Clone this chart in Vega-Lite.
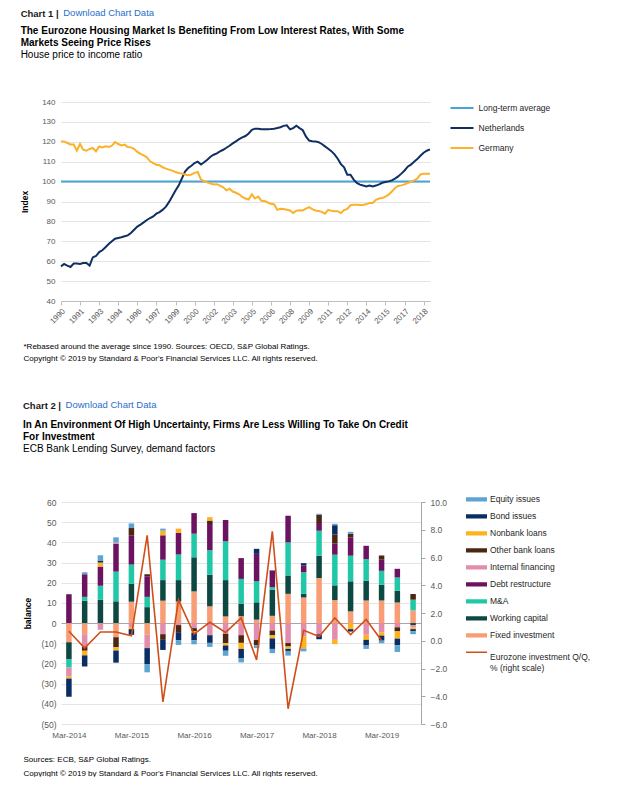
{
  "$schema": "https://vega.github.io/schema/vega-lite/v6.json",
  "background": "white",
  "padding": {"left": 20, "top": 7, "right": 0, "bottom": 0},
  "spacing": 36,
  "resolve": {"scale": {"color": "independent"}, "legend": {"color": "independent"}},
  "config": {
    "font": "Liberation Sans",
    "view": {"stroke": null},
    "axis": {"labelFont": "Liberation Sans", "titleFont": "Liberation Sans", "labelColor": "#595959", "labelFontSize": 8, "titleFontSize": 8.5, "titleFontWeight": "bold", "titleColor": "#000000", "gridColor": "#E4E4E4", "domainColor": "#BFBFBF", "tickColor": "#BFBFBF", "labelFlush": false, "labelOverlap": false},
    "legend": {"labelFont": "Liberation Sans", "labelFontSize": 8.5, "labelColor": "#262626", "padding": 0},
    "title": {"font": "Liberation Sans", "subtitleFont": "Liberation Sans", "anchor": "start", "frame": "bounds", "color": "#000000", "subtitleColor": "#000000"}
  },
  "datasets": {
    "housing": [
      {"date":"1990-01-01","Long-term average":100,"Netherlands":57.4,"Germany":120.2},
      {"date":"1990-04-01","Long-term average":100,"Netherlands":58.6,"Germany":120.2},
      {"date":"1990-07-01","Long-term average":100,"Netherlands":57.8,"Germany":119.4},
      {"date":"1990-10-01","Long-term average":100,"Netherlands":57.1,"Germany":118.6},
      {"date":"1991-01-01","Long-term average":100,"Netherlands":58.8,"Germany":118.6},
      {"date":"1991-04-01","Long-term average":100,"Netherlands":58.8,"Germany":115.5},
      {"date":"1991-07-01","Long-term average":100,"Netherlands":58.6,"Germany":118.9},
      {"date":"1991-10-01","Long-term average":100,"Netherlands":59.1,"Germany":116.0},
      {"date":"1992-01-01","Long-term average":100,"Netherlands":59.1,"Germany":115.5},
      {"date":"1992-04-01","Long-term average":100,"Netherlands":57.8,"Germany":116.4},
      {"date":"1992-07-01","Long-term average":100,"Netherlands":61.9,"Germany":116.9},
      {"date":"1992-10-01","Long-term average":100,"Netherlands":62.6,"Germany":115.2},
      {"date":"1993-01-01","Long-term average":100,"Netherlands":64.6,"Germany":117.7},
      {"date":"1993-04-01","Long-term average":100,"Netherlands":65.5,"Germany":117.2},
      {"date":"1993-07-01","Long-term average":100,"Netherlands":67.0,"Germany":117.7},
      {"date":"1993-10-01","Long-term average":100,"Netherlands":68.6,"Germany":117.4},
      {"date":"1994-01-01","Long-term average":100,"Netherlands":70.0,"Germany":118.0},
      {"date":"1994-04-01","Long-term average":100,"Netherlands":71.3,"Germany":119.9},
      {"date":"1994-07-01","Long-term average":100,"Netherlands":71.7,"Germany":118.9},
      {"date":"1994-10-01","Long-term average":100,"Netherlands":72.0,"Germany":118.2},
      {"date":"1995-01-01","Long-term average":100,"Netherlands":72.5,"Germany":118.6},
      {"date":"1995-04-01","Long-term average":100,"Netherlands":73.0,"Germany":117.4},
      {"date":"1995-07-01","Long-term average":100,"Netherlands":74.2,"Germany":117.2},
      {"date":"1995-10-01","Long-term average":100,"Netherlands":75.8,"Germany":116.5},
      {"date":"1996-01-01","Long-term average":100,"Netherlands":77.4,"Germany":114.9},
      {"date":"1996-04-01","Long-term average":100,"Netherlands":78.4,"Germany":113.9},
      {"date":"1996-07-01","Long-term average":100,"Netherlands":79.5,"Germany":113.2},
      {"date":"1996-10-01","Long-term average":100,"Netherlands":80.7,"Germany":112.2},
      {"date":"1997-01-01","Long-term average":100,"Netherlands":81.7,"Germany":110.2},
      {"date":"1997-04-01","Long-term average":100,"Netherlands":82.5,"Germany":109.3},
      {"date":"1997-07-01","Long-term average":100,"Netherlands":83.9,"Germany":108.5},
      {"date":"1997-10-01","Long-term average":100,"Netherlands":84.7,"Germany":108.2},
      {"date":"1998-01-01","Long-term average":100,"Netherlands":85.9,"Germany":107.2},
      {"date":"1998-04-01","Long-term average":100,"Netherlands":87.4,"Germany":106.5},
      {"date":"1998-07-01","Long-term average":100,"Netherlands":89.8,"Germany":106.0},
      {"date":"1998-10-01","Long-term average":100,"Netherlands":92.6,"Germany":105.5},
      {"date":"1999-01-01","Long-term average":100,"Netherlands":95.5,"Germany":104.8},
      {"date":"1999-04-01","Long-term average":100,"Netherlands":98.0,"Germany":104.3},
      {"date":"1999-07-01","Long-term average":100,"Netherlands":101.5,"Germany":104.0},
      {"date":"1999-10-01","Long-term average":100,"Netherlands":105.0,"Germany":103.6},
      {"date":"2000-01-01","Long-term average":100,"Netherlands":106.8,"Germany":103.2},
      {"date":"2000-04-01","Long-term average":100,"Netherlands":108.0,"Germany":103.6},
      {"date":"2000-07-01","Long-term average":100,"Netherlands":109.3,"Germany":104.4},
      {"date":"2000-10-01","Long-term average":100,"Netherlands":110.0,"Germany":104.8},
      {"date":"2001-01-01","Long-term average":100,"Netherlands":108.6,"Germany":101.0},
      {"date":"2001-04-01","Long-term average":100,"Netherlands":109.7,"Germany":100.2},
      {"date":"2001-07-01","Long-term average":100,"Netherlands":111.0,"Germany":99.6},
      {"date":"2001-10-01","Long-term average":100,"Netherlands":112.5,"Germany":99.0},
      {"date":"2002-01-01","Long-term average":100,"Netherlands":113.5,"Germany":98.6},
      {"date":"2002-04-01","Long-term average":100,"Netherlands":114.2,"Germany":98.7},
      {"date":"2002-07-01","Long-term average":100,"Netherlands":115.2,"Germany":98.0},
      {"date":"2002-10-01","Long-term average":100,"Netherlands":116.0,"Germany":97.1},
      {"date":"2003-01-01","Long-term average":100,"Netherlands":117.0,"Germany":95.6},
      {"date":"2003-04-01","Long-term average":100,"Netherlands":118.0,"Germany":96.4},
      {"date":"2003-07-01","Long-term average":100,"Netherlands":119.2,"Germany":95.0},
      {"date":"2003-10-01","Long-term average":100,"Netherlands":120.2,"Germany":94.4},
      {"date":"2004-01-01","Long-term average":100,"Netherlands":121.3,"Germany":93.6},
      {"date":"2004-04-01","Long-term average":100,"Netherlands":122.2,"Germany":92.3},
      {"date":"2004-07-01","Long-term average":100,"Netherlands":122.9,"Germany":91.5},
      {"date":"2004-10-01","Long-term average":100,"Netherlands":124.2,"Germany":91.0},
      {"date":"2005-01-01","Long-term average":100,"Netherlands":126.0,"Germany":93.6},
      {"date":"2005-04-01","Long-term average":100,"Netherlands":126.6,"Germany":91.5},
      {"date":"2005-07-01","Long-term average":100,"Netherlands":126.5,"Germany":92.5},
      {"date":"2005-10-01","Long-term average":100,"Netherlands":126.3,"Germany":90.4},
      {"date":"2006-01-01","Long-term average":100,"Netherlands":126.3,"Germany":90.3},
      {"date":"2006-04-01","Long-term average":100,"Netherlands":126.3,"Germany":89.5},
      {"date":"2006-07-01","Long-term average":100,"Netherlands":126.4,"Germany":88.9},
      {"date":"2006-10-01","Long-term average":100,"Netherlands":126.6,"Germany":88.5},
      {"date":"2007-01-01","Long-term average":100,"Netherlands":126.9,"Germany":85.8},
      {"date":"2007-04-01","Long-term average":100,"Netherlands":127.3,"Germany":86.3},
      {"date":"2007-07-01","Long-term average":100,"Netherlands":128.0,"Germany":86.2},
      {"date":"2007-10-01","Long-term average":100,"Netherlands":128.3,"Germany":85.9},
      {"date":"2008-01-01","Long-term average":100,"Netherlands":126.3,"Germany":85.5},
      {"date":"2008-04-01","Long-term average":100,"Netherlands":126.9,"Germany":84.2},
      {"date":"2008-07-01","Long-term average":100,"Netherlands":128.1,"Germany":85.4},
      {"date":"2008-10-01","Long-term average":100,"Netherlands":126.9,"Germany":85.6},
      {"date":"2009-01-01","Long-term average":100,"Netherlands":125.8,"Germany":85.5},
      {"date":"2009-04-01","Long-term average":100,"Netherlands":122.7,"Germany":86.4},
      {"date":"2009-07-01","Long-term average":100,"Netherlands":120.6,"Germany":87.2},
      {"date":"2009-10-01","Long-term average":100,"Netherlands":120.3,"Germany":86.2},
      {"date":"2010-01-01","Long-term average":100,"Netherlands":120.2,"Germany":85.5},
      {"date":"2010-04-01","Long-term average":100,"Netherlands":119.8,"Germany":85.2},
      {"date":"2010-07-01","Long-term average":100,"Netherlands":118.9,"Germany":84.8},
      {"date":"2010-10-01","Long-term average":100,"Netherlands":117.7,"Germany":83.9},
      {"date":"2011-01-01","Long-term average":100,"Netherlands":116.5,"Germany":85.8},
      {"date":"2011-04-01","Long-term average":100,"Netherlands":115.3,"Germany":85.3},
      {"date":"2011-07-01","Long-term average":100,"Netherlands":113.7,"Germany":85.1},
      {"date":"2011-10-01","Long-term average":100,"Netherlands":111.5,"Germany":85.1},
      {"date":"2012-01-01","Long-term average":100,"Netherlands":108.8,"Germany":84.2},
      {"date":"2012-04-01","Long-term average":100,"Netherlands":107.2,"Germany":85.7},
      {"date":"2012-07-01","Long-term average":100,"Netherlands":103.5,"Germany":86.3},
      {"date":"2012-10-01","Long-term average":100,"Netherlands":103.5,"Germany":88.1},
      {"date":"2013-01-01","Long-term average":100,"Netherlands":101.0,"Germany":88.4},
      {"date":"2013-04-01","Long-term average":100,"Netherlands":99.3,"Germany":88.4},
      {"date":"2013-07-01","Long-term average":100,"Netherlands":98.5,"Germany":88.2},
      {"date":"2013-10-01","Long-term average":100,"Netherlands":98.0,"Germany":88.3},
      {"date":"2014-01-01","Long-term average":100,"Netherlands":97.6,"Germany":88.7},
      {"date":"2014-04-01","Long-term average":100,"Netherlands":98.0,"Germany":89.2},
      {"date":"2014-07-01","Long-term average":100,"Netherlands":97.6,"Germany":89.2},
      {"date":"2014-10-01","Long-term average":100,"Netherlands":98.0,"Germany":90.8},
      {"date":"2015-01-01","Long-term average":100,"Netherlands":98.6,"Germany":91.5},
      {"date":"2015-04-01","Long-term average":100,"Netherlands":99.4,"Germany":91.7},
      {"date":"2015-07-01","Long-term average":100,"Netherlands":99.8,"Germany":92.5},
      {"date":"2015-10-01","Long-term average":100,"Netherlands":100.1,"Germany":93.4},
      {"date":"2016-01-01","Long-term average":100,"Netherlands":100.6,"Germany":95.0},
      {"date":"2016-04-01","Long-term average":100,"Netherlands":101.5,"Germany":96.8},
      {"date":"2016-07-01","Long-term average":100,"Netherlands":102.6,"Germany":97.8},
      {"date":"2016-10-01","Long-term average":100,"Netherlands":104.0,"Germany":98.1},
      {"date":"2017-01-01","Long-term average":100,"Netherlands":105.6,"Germany":98.6},
      {"date":"2017-04-01","Long-term average":100,"Netherlands":107.5,"Germany":99.3},
      {"date":"2017-07-01","Long-term average":100,"Netherlands":108.5,"Germany":99.9},
      {"date":"2017-10-01","Long-term average":100,"Netherlands":110.0,"Germany":100.6},
      {"date":"2018-01-01","Long-term average":100,"Netherlands":111.3,"Germany":101.5},
      {"date":"2018-04-01","Long-term average":100,"Netherlands":113.0,"Germany":103.6},
      {"date":"2018-07-01","Long-term average":100,"Netherlands":114.5,"Germany":104.0},
      {"date":"2018-10-01","Long-term average":100,"Netherlands":115.5,"Germany":104.0},
      {"date":"2019-01-01","Long-term average":100,"Netherlands":116.2,"Germany":104.0}
    ],
    "survey": [
      {"date":"2014-03-01","Eurozone investment Q/Q, % (right scale)":0.68,"Debt restructure":14.3,"Fixed investment":-9.5,"Working capital":-8.5,"M&A":-4,"Internal financing":-4.5,"Nonbank loans":-1,"Bond issues":-9},
      {"date":"2014-06-01","Eurozone investment Q/Q, % (right scale)":-0.53,"Working capital":11,"M&A":2,"Debt restructure":11.2,"Equity issues":1,"Fixed investment":-5.5,"Internal financing":-6.2,"Other bank loans":-2,"Nonbank loans":-2.3,"Bond issues":-5.5},
      {"date":"2014-09-01","Eurozone investment Q/Q, % (right scale)":0.63,"Working capital":11.5,"M&A":7,"Debt restructure":9.5,"Nonbank loans":2,"Bond issues":1,"Equity issues":2.6,"Internal financing":-3.3},
      {"date":"2014-12-01","Eurozone investment Q/Q, % (right scale)":0.63,"Working capital":10.8,"M&A":14.7,"Debt restructure":13.7,"Internal financing":0.7,"Equity issues":2.6,"Fixed investment":-7,"Other bank loans":-5,"Nonbank loans":-1.6,"Bond issues":-6},
      {"date":"2015-03-01","Eurozone investment Q/Q, % (right scale)":0.36,"Fixed investment":10.6,"Working capital":8.8,"M&A":9.6,"Debt restructure":14.5,"Other bank loans":3.6,"Equity issues":2.3,"Internal financing":-2,"Nonbank loans":-1,"Bond issues":-2.8},
      {"date":"2015-06-01","Eurozone investment Q/Q, % (right scale)":7.59,"Working capital":7.9,"M&A":5.1,"Debt restructure":10.2,"Other bank loans":1,"Fixed investment":-5.8,"Internal financing":-6.6,"Bond issues":-7.9,"Equity issues":-4.1},
      {"date":"2015-09-01","Eurozone investment Q/Q, % (right scale)":-4.41,"Fixed investment":11.1,"Working capital":10.2,"M&A":10.1,"Debt restructure":12.1,"Nonbank loans":2.3,"Equity issues":1,"Internal financing":-5.5,"Other bank loans":-2.8,"Bond issues":-5},
      {"date":"2015-12-01","Eurozone investment Q/Q, % (right scale)":2.93,"Fixed investment":10.7,"Working capital":10.6,"M&A":12.7,"Debt restructure":10.7,"Nonbank loans":2.1,"Internal financing":-1,"Other bank loans":-3.5,"Bond issues":-4,"Equity issues":-2.3},
      {"date":"2016-03-01","Eurozone investment Q/Q, % (right scale)":0.48,"Fixed investment":15.7,"Working capital":16.9,"M&A":11.7,"Debt restructure":10.2,"Internal financing":-2.5,"Other bank loans":-1.5,"Nonbank loans":-0.8,"Bond issues":-3.7,"Equity issues":-2},
      {"date":"2016-06-01","Eurozone investment Q/Q, % (right scale)":1.33,"Fixed investment":8.3,"Working capital":15.7,"M&A":12.1,"Debt restructure":13,"Other bank loans":1.7,"Nonbank loans":1.7,"Internal financing":-6,"Bond issues":-3.8,"Equity issues":-2},
      {"date":"2016-09-01","Eurozone investment Q/Q, % (right scale)":0.6,"Fixed investment":3.3,"Working capital":18,"M&A":19.2,"Debt restructure":10.6,"Internal financing":-5.3,"Other bank loans":-4.6,"Nonbank loans":-1.2,"Bond issues":-2.6,"Equity issues":-2.5},
      {"date":"2016-12-01","Eurozone investment Q/Q, % (right scale)":1.65,"Fixed investment":3.4,"Working capital":6.2,"M&A":12.3,"Debt restructure":10.3,"Internal financing":-6,"Other bank loans":-3.8,"Nonbank loans":-3,"Bond issues":-4.5,"Equity issues":-2.2},
      {"date":"2017-03-01","Eurozone investment Q/Q, % (right scale)":-1.38,"Fixed investment":1.7,"Working capital":8.6,"M&A":10.4,"Debt restructure":13.6,"Bond issues":2.5,"Internal financing":-8.4,"Other bank loans":-2.6,"Equity issues":-1.4},
      {"date":"2017-06-01","Eurozone investment Q/Q, % (right scale)":7.88,"Fixed investment":3.6,"Working capital":12.9,"M&A":1.3,"Debt restructure":8.3,"Internal financing":-3.7,"Other bank loans":-2.4,"Nonbank loans":-1.5,"Bond issues":-5.2,"Equity issues":-2.1},
      {"date":"2017-09-01","Eurozone investment Q/Q, % (right scale)":-4.9,"Fixed investment":14.5,"Working capital":9.1,"M&A":16.4,"Debt restructure":13.2,"Internal financing":-9.9,"Other bank loans":-1.7,"Nonbank loans":-1.2,"Bond issues":-1,"Equity issues":-2.3},
      {"date":"2017-12-01","Eurozone investment Q/Q, % (right scale)":0.75,"Fixed investment":12.7,"Working capital":1.8,"M&A":10.7,"Debt restructure":3.3,"Bond issues":1.2,"Internal financing":-6.6,"Nonbank loans":-6,"Equity issues":-1.4},
      {"date":"2018-03-01","Eurozone investment Q/Q, % (right scale)":0.31,"Fixed investment":22.4,"Working capital":11,"M&A":12.4,"Debt restructure":3.8,"Other bank loans":4.1,"Equity issues":0.5,"Internal financing":-5.5,"Bond issues":-2.5},
      {"date":"2018-06-01","Eurozone investment Q/Q, % (right scale)":1.65,"Fixed investment":11.4,"Working capital":7.3,"M&A":15.2,"Debt restructure":5.5,"Other bank loans":4.5,"Bond issues":4.6,"Equity issues":0.7,"Internal financing":-8.3,"Nonbank loans":-2.1},
      {"date":"2018-09-01","Eurozone investment Q/Q, % (right scale)":0.44,"Fixed investment":5.8,"Working capital":14.9,"M&A":12.7,"Debt restructure":9.1,"Other bank loans":1.7,"Equity issues":1,"Nonbank loans":-3,"Bond issues":-1.2},
      {"date":"2018-12-01","Eurozone investment Q/Q, % (right scale)":1.53,"Fixed investment":11.2,"Working capital":9.8,"M&A":10.7,"Debt restructure":6.6,"Internal financing":-5.8,"Nonbank loans":-2.5,"Bond issues":-2.8,"Equity issues":-1.7},
      {"date":"2019-03-01","Eurozone investment Q/Q, % (right scale)":0.02,"Fixed investment":11.2,"Working capital":7.8,"M&A":6.9,"Debt restructure":5.5,"Other bank loans":2.1,"Internal financing":-4.5,"Nonbank loans":-1.7,"Bond issues":-2.5,"Equity issues":-1.3},
      {"date":"2019-06-01","Fixed investment":10.2,"Working capital":5.8,"M&A":6.6,"Debt restructure":4.3,"Internal financing":-2.1,"Other bank loans":-2,"Nonbank loans":-3.6,"Bond issues":-3.3,"Equity issues":-3.3},
      {"date":"2019-09-01","Fixed investment":6.3,"M&A":5.3,"Other bank loans":2.8,"Working capital":-1,"Internal financing":-1.2,"Nonbank loans":-0.8,"Bond issues":-1,"Equity issues":-1.5}
    ]
  },
  "vconcat": [
    {
      "title": {"text": "Chart 1  |", "fontSize": 9.5, "fontWeight": "bold", "color": "#1A1A1A", "offset": 0, "dy": 11},
      "vconcat": [
        {
          "title": {"text": "Download Chart Data", "fontSize": 9.5, "fontWeight": "normal", "color": "#1F6FCB", "dx": 42.6, "offset": 9},
          "vconcat": [
            {
              "width": 369,
              "height": 199,
              "title": {"text": ["The Eurozone Housing Market Is Benefiting From Low Interest Rates, With Some", "Markets Seeing Price Rises"], "subtitle": "House price to income ratio", "fontSize": 10, "fontWeight": "bold", "lineHeight": 12, "subtitleFontSize": 10, "subtitleFontWeight": "normal", "subtitleLineHeight": 12, "subtitlePadding": 2, "offset": 38},
              "data": {"name": "housing"},
              "transform": [{"fold": ["Long-term average", "Netherlands", "Germany"], "as": ["series", "value"]}],
              "mark": {"type": "line", "strokeWidth": 2},
              "encoding": {
                "x": {
                  "field": "date", "type": "temporal",
                  "scale": {"type": "utc", "domain": [{"year": 1990, "month": 1, "date": 1, "utc": true}, {"year": 2019, "month": 1, "date": 1, "utc": true}]},
                  "axis": {
                    "values": [
                      {"year": 1990, "month": 1, "date": 1, "utc": true}, {"year": 1991, "month": 7, "date": 1, "utc": true},
                      {"year": 1993, "month": 1, "date": 1, "utc": true}, {"year": 1994, "month": 7, "date": 1, "utc": true},
                      {"year": 1996, "month": 1, "date": 1, "utc": true}, {"year": 1997, "month": 7, "date": 1, "utc": true},
                      {"year": 1999, "month": 1, "date": 1, "utc": true}, {"year": 2000, "month": 7, "date": 1, "utc": true},
                      {"year": 2002, "month": 1, "date": 1, "utc": true}, {"year": 2003, "month": 7, "date": 1, "utc": true},
                      {"year": 2005, "month": 1, "date": 1, "utc": true}, {"year": 2006, "month": 7, "date": 1, "utc": true},
                      {"year": 2008, "month": 1, "date": 1, "utc": true}, {"year": 2009, "month": 7, "date": 1, "utc": true},
                      {"year": 2011, "month": 1, "date": 1, "utc": true}, {"year": 2012, "month": 7, "date": 1, "utc": true},
                      {"year": 2014, "month": 1, "date": 1, "utc": true}, {"year": 2015, "month": 7, "date": 1, "utc": true},
                      {"year": 2017, "month": 1, "date": 1, "utc": true}, {"year": 2018, "month": 7, "date": 1, "utc": true}
                    ],
                    "labelExpr": "utcFormat(datum.value, '%Y')", "labelAngle": -45, "labelFontSize": 8, "labelPadding": 2,
                    "grid": false, "domain": true, "ticks": true, "tickSize": 4,
                    "title": ["*Rebased around the average since 1990. Sources: OECD, S&P Global Ratings.", "Copyright © 2019 by Standard & Poor's Financial Services LLC. All rights reserved."],
                    "titleFontWeight": "normal", "titleFontSize": 8, "titleAlign": "left", "titleAnchor": "start", "titleX": -38, "titlePadding": 17, "titleLineHeight": 12, "titleColor": "#000000"
                  }
                },
                "y": {
                  "field": "value", "type": "quantitative",
                  "scale": {"domain": [40, 140], "nice": false},
                  "axis": {"title": "Index", "values": [40, 50, 60, 70, 80, 90, 100, 110, 120, 130, 140], "domain": false, "ticks": false, "grid": true, "labelPadding": 6, "titlePadding": 12, "labelFontSize": 8}
                },
                "color": {
                  "field": "series", "type": "nominal",
                  "scale": {"domain": ["Long-term average", "Netherlands", "Germany"], "range": ["#4AA5D6", "#0F2F61", "#FBB129"]},
                  "legend": {"title": null, "orient": "none", "legendX": 388.5, "legendY": -4, "symbolType": "stroke", "symbolSize": 529, "symbolStrokeWidth": 2, "clipHeight": 20, "rowPadding": 0, "labelOffset": 4, "labelFontSize": 8.5}
                }
              }
            }
          ]
        }
      ]
    },
    {
      "title": {"text": "Chart 2  |", "fontSize": 9.5, "fontWeight": "bold", "color": "#1A1A1A", "offset": 0, "dy": 11},
      "vconcat": [
        {
          "title": {"text": "Download Chart Data", "fontSize": 9.5, "fontWeight": "normal", "color": "#1F6FCB", "dx": 42.6, "offset": 11},
          "vconcat": [
            {
              "width": 360,
              "height": 222,
              "title": {"text": ["In An Environment Of High Uncertainty, Firms Are Less Willing To Take On Credit", "For Investment"], "subtitle": "ECB Bank Lending Survey, demand factors", "fontSize": 10, "fontWeight": "bold", "lineHeight": 12, "subtitleFontSize": 10, "subtitleFontWeight": "normal", "subtitleLineHeight": 12, "subtitlePadding": 2, "offset": 44},
              "data": {"name": "survey"},
              "encoding": {
                "x": {
                  "field": "date", "type": "temporal",
                  "scale": {"type": "utc", "domain": [{"year": 2014, "month": 2, "date": 12, "utc": true}, {"year": 2019, "month": 9, "date": 18, "utc": true}]},
                  "axis": {
                    "values": [
                      {"year": 2014, "month": 3, "date": 1, "utc": true}, {"year": 2015, "month": 3, "date": 1, "utc": true},
                      {"year": 2016, "month": 3, "date": 1, "utc": true}, {"year": 2017, "month": 3, "date": 1, "utc": true},
                      {"year": 2018, "month": 3, "date": 1, "utc": true}, {"year": 2019, "month": 3, "date": 1, "utc": true}
                    ],
                    "labelExpr": "utcFormat(datum.value, '%b-%Y')", "labelAngle": 0, "labelFontSize": 8, "labelPadding": 7,
                    "grid": false, "domain": false, "ticks": false,
                    "title": ["Sources: ECB, S&P Global Ratings.", "Copyright © 2019 by Standard & Poor's Financial Services LLC. All rights reserved."],
                    "titleFontWeight": "normal", "titleFontSize": 8, "titleAlign": "left", "titleAnchor": "start", "titleX": -38, "titlePadding": 16, "titleLineHeight": 14, "titleColor": "#000000"
                  }
                }
              },
              "layer": [
                {
                  "transform": [
                    {"fold": ["Fixed investment", "Working capital", "M&A", "Debt restructure", "Internal financing", "Other bank loans", "Nonbank loans", "Bond issues", "Equity issues"], "as": ["series", "value"]},
                    {"filter": "isValid(datum.value)"}
                  ],
                  "mark": {"type": "bar", "size": 5.5},
                  "encoding": {
                    "y": {
                      "field": "value", "type": "quantitative", "stack": "zero",
                      "scale": {"domain": [-50, 60], "nice": false},
                      "axis": {"title": "balance", "values": [-50, -40, -30, -20, -10, 0, 10, 20, 30, 40, 50, 60], "labelExpr": "datum.value < 0 ? '(' + abs(datum.value) + ')' : datum.label", "domain": false, "ticks": false, "grid": true, "gridColor": {"condition": {"test": "datum.value === 0", "value": "#A6A6A6"}, "value": "#E4E4E4"}, "labelPadding": 5, "titlePadding": 8, "labelFontSize": 8.5}
                    },
                    "order": {"field": "date", "type": "temporal"},
                    "color": {
                      "field": "series", "type": "nominal",
                      "scale": {
                        "domain": ["Equity issues", "Bond issues", "Nonbank loans", "Other bank loans", "Internal financing", "Debt restructure", "M&A", "Working capital", "Fixed investment", "Eurozone investment Q/Q, % (right scale)"],
                        "range": ["#5DA4D1", "#0A2E63", "#FDB21E", "#4B2613", "#E28DAB", "#6B1260", "#20C8A8", "#0E4842", "#F99D74", "#CF4F1B"]
                      },
                      "legend": {
                        "title": null, "orient": "none", "legendX": 405, "legendY": -11,
                        "symbolType": "M-1,-0.2H1V0.2H-1Z", "symbolSize": 441, "symbolStrokeWidth": 0, "clipHeight": 16.7, "rowPadding": 0, "labelOffset": 3, "labelFontSize": 8.5,
                        "labelExpr": "datum.label == 'Eurozone investment Q/Q, % (right scale)' ? ['Eurozone investment Q/Q,', '% (right scale)'] : datum.label",
                        "encode": {
                          "symbols": {"update": {"shape": {"signal": "datum.value == 'Eurozone investment Q/Q, % (right scale)' ? 'M-1,-0.07H1V0.07H-1Z' : 'M-1,-0.2H1V0.2H-1Z'"}}},
                          "labels": {"update": {"dy": {"signal": "datum.value == 'Eurozone investment Q/Q, % (right scale)' ? 5 : 0"}}}
                        }
                      }
                    }
                  }
                },
                {
                  "transform": [
                    {"fold": ["Eurozone investment Q/Q, % (right scale)"], "as": ["series", "value"]},
                    {"filter": "isValid(datum.value)"}
                  ],
                  "mark": {"type": "line", "strokeWidth": 1.6},
                  "encoding": {
                    "y": {
                      "field": "value", "type": "quantitative",
                      "scale": {"domain": [-6, 10], "nice": false},
                      "axis": {"orient": "right", "title": null, "values": [-6, -4, -2, 0, 2, 4, 6, 8, 10], "format": ".1f", "grid": false, "domain": true, "domainColor": "#A6A6A6", "ticks": true, "tickColor": "#A6A6A6", "tickSize": 4, "labelPadding": 5, "labelFontSize": 8.5}
                    },
                    "color": {
                      "field": "series", "type": "nominal",
                      "scale": {
                        "domain": ["Equity issues", "Bond issues", "Nonbank loans", "Other bank loans", "Internal financing", "Debt restructure", "M&A", "Working capital", "Fixed investment", "Eurozone investment Q/Q, % (right scale)"],
                        "range": ["#5DA4D1", "#0A2E63", "#FDB21E", "#4B2613", "#E28DAB", "#6B1260", "#20C8A8", "#0E4842", "#F99D74", "#CF4F1B"]
                      },
                      "legend": {
                        "title": null, "orient": "none", "legendX": 405, "legendY": -11,
                        "symbolType": "M-1,-0.2H1V0.2H-1Z", "symbolSize": 441, "symbolStrokeWidth": 0, "clipHeight": 16.7, "rowPadding": 0, "labelOffset": 3, "labelFontSize": 8.5,
                        "labelExpr": "datum.label == 'Eurozone investment Q/Q, % (right scale)' ? ['Eurozone investment Q/Q,', '% (right scale)'] : datum.label",
                        "encode": {
                          "symbols": {"update": {"shape": {"signal": "datum.value == 'Eurozone investment Q/Q, % (right scale)' ? 'M-1,-0.07H1V0.07H-1Z' : 'M-1,-0.2H1V0.2H-1Z'"}}},
                          "labels": {"update": {"dy": {"signal": "datum.value == 'Eurozone investment Q/Q, % (right scale)' ? 5 : 0"}}}
                        }
                      }
                    }
                  }
                }
              ],
              "resolve": {"scale": {"y": "independent"}}
            }
          ]
        }
      ]
    }
  ]
}
